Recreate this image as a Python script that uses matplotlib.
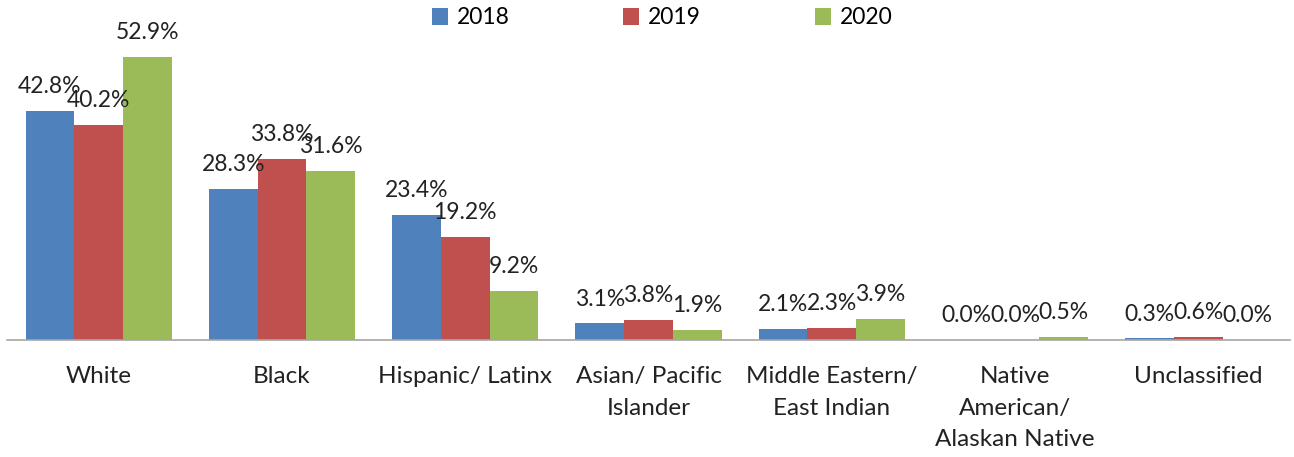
import numpy as np
import matplotlib.pyplot as plt

plt.rcParams['font.family'] = ['Lato', 'DejaVu Sans']

categories = ['White', 'Black', 'Hispanic/ Latinx', 'Asian/ Pacific\nIslander',
              'Middle Eastern/\nEast Indian', 'Native\nAmerican/\nAlaskan Native',
              'Unclassified']
years = ['2018', '2019', '2020']
v2018 = [42.8, 28.3, 23.4, 3.1, 2.1, 0.0, 0.3]
v2019 = [40.2, 33.8, 19.2, 3.8, 2.3, 0.0, 0.6]
v2020 = [52.9, 31.6, 9.2, 1.9, 3.9, 0.5, 0.0]
colors = ['#4F81BD', '#C0504D', '#9BBB59']

fig = plt.figure(figsize=(12.94, 4.57), dpi=100)
ax = fig.add_axes([7/1294, 117/457, 1283/1294, 321/457])

x = np.arange(len(categories))
w = 0.266
for i, (vals, yr) in enumerate(zip([v2018, v2019, v2020], years)):
    pos = x + (i - 1) * w
    ax.bar(pos, vals, w, color=colors[i], label=yr)
    for px, v in zip(pos, vals):
        ax.annotate(f'{v:.1f}%', (px, v), xytext=(0, 10), textcoords='offset points',
                    ha='center', va='bottom', fontsize=16.5, color='#222222')

ax.set_xlim(-0.5, len(categories) - 0.5)
ax.set_ylim(0, 60)
ax.set_xticks(x)
ax.set_xticklabels(categories, fontsize=17.5, linespacing=1.62, color='#222222', va='top')
ax.tick_params(axis='x', length=0, pad=19)
ax.set_yticks([])
for s in ['top', 'right', 'left']:
    ax.spines[s].set_visible(False)
ax.spines['bottom'].set_color('#A6A6A6')
ax.spines['bottom'].set_linewidth(1.2)

fig.legend(loc='center', bbox_to_anchor=(662/1294, 1 - 18/457), ncol=3, frameon=False,
           fontsize=16.5, handlelength=0.7, handleheight=0.7, handletextpad=0.4,
           columnspacing=4.95)

fig.savefig('out.png', dpi=100)
